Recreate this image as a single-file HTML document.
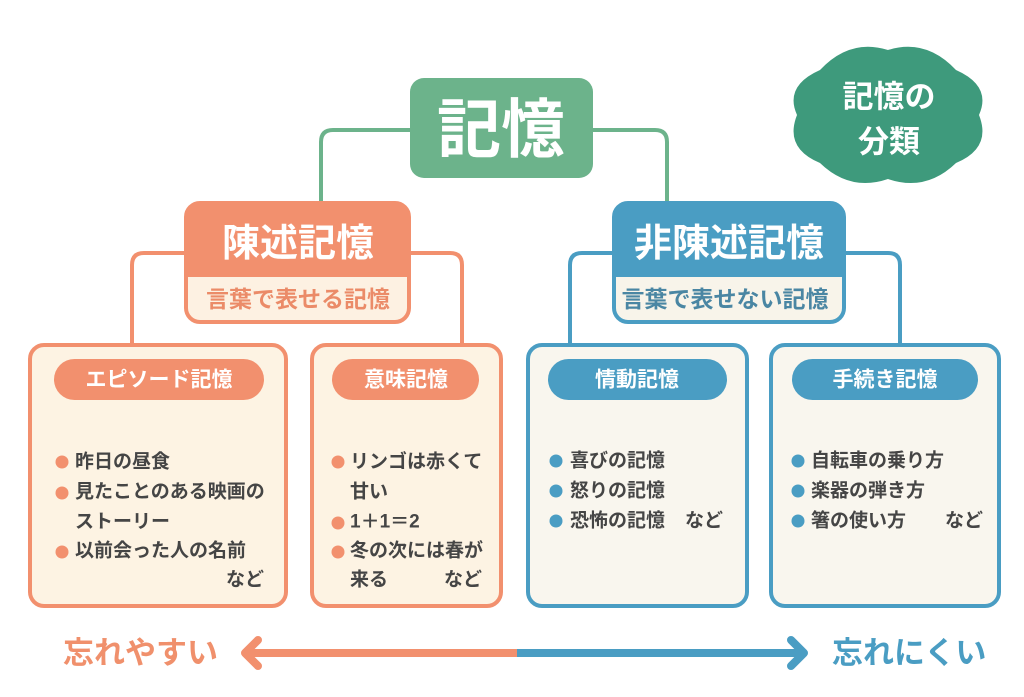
<!DOCTYPE html>
<html><head><meta charset="utf-8"><style>
html,body{margin:0;padding:0;background:#fff;}
svg{display:block;}
text{font-family:"Liberation Sans","Noto Sans CJK JP",sans-serif;font-weight:700;}
</style></head><body>
<svg width="1024" height="697" viewBox="0 0 1024 697" xmlns="http://www.w3.org/2000/svg">
<rect width="1024" height="697" fill="#ffffff"/>
<!-- green connectors -->
<g fill="none" stroke="#6cb38b" stroke-width="4" stroke-linecap="round">
<path d="M410 130 H333 Q321 130 321 142 V204"/>
<path d="M593 130 H655 Q667 130 667 142 V204"/>
</g>
<!-- orange connectors -->
<g fill="none" stroke="#f2906e" stroke-width="4">
<path d="M186 253 H144 Q132 253 132 265 V345"/>
<path d="M409 253 H450 Q462 253 462 265 V345"/>
</g>
<!-- blue connectors -->
<g fill="none" stroke="#4a9dc3" stroke-width="4">
<path d="M614 253 H582 Q570 253 570 265 V345"/>
<path d="M844 253 H888 Q900 253 900 265 V345"/>
</g>
<!-- top node -->
<rect x="410" y="78" width="183" height="100" rx="14" fill="#6cb38b"/>
<text x="501" y="130" font-size="64" fill="#fff" text-anchor="middle" dominant-baseline="central">記憶</text>
<!-- badge -->
<path d="M820 70 Q850 38 888 50 Q926 38 956 70 Q992 86 979 115 Q992 148 956 163 Q926 192 888 179 Q850 192 820 163 Q784 148 797 115 Q784 86 820 70 Z" fill="#3e9a7c"/>
<text x="889" y="97" font-size="31" fill="#fff" text-anchor="middle" dominant-baseline="central">記憶の</text>
<text x="889" y="142" font-size="31" fill="#fff" text-anchor="middle" dominant-baseline="central">分類</text>
<!-- declarative -->
<rect x="186" y="203" width="223" height="119" rx="14" fill="#fdf1e2" stroke="#f2906e" stroke-width="4"/>
<path d="M186 277 V217 Q186 203 200 203 H395 Q409 203 409 217 V277 Z" fill="#f2906e"/>
<text x="298" y="244" font-size="38" fill="#fff" text-anchor="middle" dominant-baseline="central">陳述記憶</text>
<text x="298" y="299" font-size="23" fill="#eb8b68" text-anchor="middle" dominant-baseline="central">言葉で表せる記憶</text>
<!-- non-declarative -->
<rect x="614" y="203" width="230" height="119" rx="14" fill="#f8f4ea" stroke="#4a9dc3" stroke-width="4"/>
<path d="M614 277 V217 Q614 203 628 203 H830 Q844 203 844 217 V277 Z" fill="#4a9dc3"/>
<text x="729" y="244" font-size="38" fill="#fff" text-anchor="middle" dominant-baseline="central">非陳述記憶</text>
<text x="725" y="299" font-size="23" fill="#4a86a3" text-anchor="middle" dominant-baseline="central">言葉で表せない記憶</text>
<!-- episode box -->
<rect x="30" y="345" width="256" height="261" rx="14" fill="#fdf3e3" stroke="#f2906e" stroke-width="4"/>
<rect x="54" y="359" width="210" height="41" rx="20.5" fill="#f2906e"/>
<text x="159" y="380" font-size="21" fill="#fff" text-anchor="middle" dominant-baseline="central">エピソード記憶</text>
<g fill="#f2906e"><circle cx="62" cy="462" r="6.5"/><circle cx="62" cy="493" r="6.5"/><circle cx="62" cy="552" r="6.5"/></g>
<g font-size="19" fill="#454545" dominant-baseline="central">
<text x="75" y="462">昨日の昼食</text>
<text x="75" y="492">見たことのある映画の</text>
<text x="75" y="522">ストーリー</text>
<text x="75" y="551">以前会った人の名前</text>
<text x="264" y="580" text-anchor="end">など</text>
</g>
<!-- semantic box -->
<rect x="312" y="345" width="189" height="261" rx="14" fill="#fdf3e3" stroke="#f2906e" stroke-width="4"/>
<rect x="332" y="359" width="147" height="41" rx="20.5" fill="#f2906e"/>
<text x="406" y="380" font-size="21" fill="#fff" text-anchor="middle" dominant-baseline="central">意味記憶</text>
<g fill="#f2906e"><circle cx="338" cy="462" r="6.5"/><circle cx="338" cy="523" r="6.5"/><circle cx="338" cy="552" r="6.5"/></g>
<g font-size="19" fill="#454545" dominant-baseline="central">
<text x="350" y="462">リンゴは赤くて</text>
<text x="350" y="492">甘い</text>
<text x="350" y="522">1＋1＝2</text>
<text x="350" y="551">冬の次には春が</text>
<text x="350" y="580">来る</text>
<text x="482" y="580" text-anchor="end">など</text>
</g>
<!-- emotional box -->
<rect x="528" y="345" width="219" height="261" rx="14" fill="#f9f6ee" stroke="#4a9dc3" stroke-width="4"/>
<rect x="548" y="359" width="179" height="41" rx="20.5" fill="#4a9dc3"/>
<text x="637" y="380" font-size="21" fill="#fff" text-anchor="middle" dominant-baseline="central">情動記憶</text>
<g fill="#4a9dc3"><circle cx="556" cy="461" r="6.5"/><circle cx="556" cy="491" r="6.5"/><circle cx="556" cy="521" r="6.5"/></g>
<g font-size="19" fill="#454545" dominant-baseline="central">
<text x="570" y="461">喜びの記憶</text>
<text x="570" y="491">怒りの記憶</text>
<text x="570" y="521">恐怖の記憶</text>
<text x="685" y="521">など</text>
</g>
<!-- procedural box -->
<rect x="771" y="345" width="228" height="261" rx="14" fill="#f9f6ee" stroke="#4a9dc3" stroke-width="4"/>
<rect x="792" y="359" width="186" height="41" rx="20.5" fill="#4a9dc3"/>
<text x="885" y="380" font-size="21" fill="#fff" text-anchor="middle" dominant-baseline="central">手続き記憶</text>
<g fill="#4a9dc3"><circle cx="798" cy="461" r="6.5"/><circle cx="798" cy="491" r="6.5"/><circle cx="798" cy="521" r="6.5"/></g>
<g font-size="19" fill="#454545" dominant-baseline="central">
<text x="811" y="461">自転車の乗り方</text>
<text x="811" y="491">楽器の弾き方</text>
<text x="811" y="521">箸の使い方</text>
<text x="945" y="521">など</text>
</g>
<!-- bottom arrow -->
<text x="63" y="653" font-size="31" fill="#f0906c" dominant-baseline="central">忘れやすい</text>
<text x="832" y="653" font-size="31" fill="#4a9dc3" dominant-baseline="central">忘れにくい</text>
<line x1="246" y1="653" x2="517" y2="653" stroke="#f2906e" stroke-width="8"/>
<line x1="517" y1="653" x2="802" y2="653" stroke="#4a9dc3" stroke-width="8"/>
<path d="M258 640 L245 653 L258 666" fill="none" stroke="#f2906e" stroke-width="8" stroke-linecap="round" stroke-linejoin="round"/>
<path d="M791 640 L804 653 L791 666" fill="none" stroke="#4a9dc3" stroke-width="8" stroke-linecap="round" stroke-linejoin="round"/>
</svg>
</body></html>
